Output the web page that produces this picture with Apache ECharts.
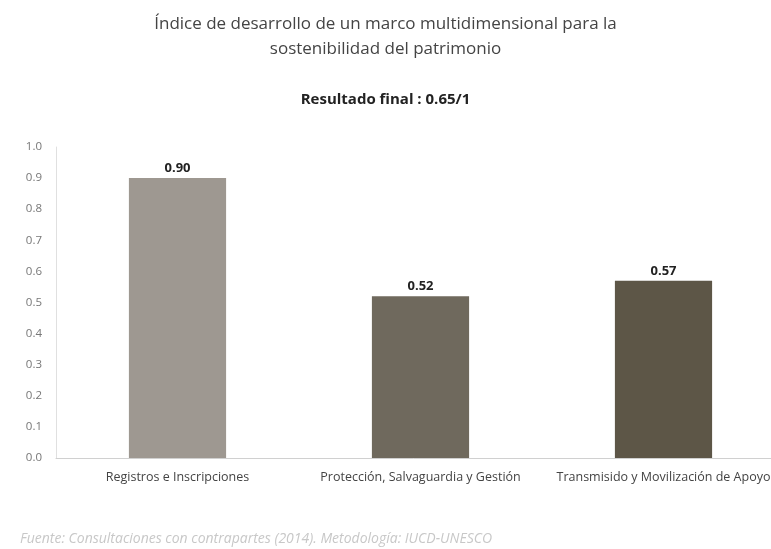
<!DOCTYPE html>
<html>
<head>
<meta charset="utf-8">
<script src="https://cdn.jsdelivr.net/npm/echarts@6/dist/echarts.min.js"></script>
<style>
  html, body { margin: 0; padding: 0; background: #fff; }
  #chart { width: 771px; height: 549px; }
</style>
</head>
<body>
<div id="chart"></div>
<script>
// datos
const categories = ['Registros e Inscripciones', 'Protección, Salvaguardia y Gestión', 'Transmisido y Movilización de Apoyo'];
const values = [0.90, 0.52, 0.57];
const barColors = ['#9e9891', '#6f695d', '#5d5647'];
const yTicks = [0, 0.1, 0.2, 0.3, 0.4, 0.5, 0.6, 0.7, 0.8, 0.9, 1.0];

const chart = echarts.init(document.getElementById('chart'));
chart.setOption({
  backgroundColor: '#fff',
  animation: false,
  title: [{
    text: 'Índice de desarrollo de un marco multidimensional para la\nsostenibilidad del patrimonio',
    left: 'center',
    top: 7,
    textStyle: { fontFamily: 'Open Sans', fontSize: 17, fontWeight: 'normal', color: '#444', lineHeight: 25 }
  }, {
    text: 'Resultado final : 0.65/1',
    left: 'center',
    top: 87,
    textStyle: { fontFamily: 'Open Sans', fontSize: 15, fontWeight: 'bold', color: '#222' }
  }, {
    text: 'Fuente: Consultaciones con contrapartes (2014). Metodología: IUCD-UNESCO',
    left: 15,
    top: 527,
    textStyle: { fontFamily: 'Open Sans', fontSize: 14, fontStyle: 'italic', fontWeight: 'normal', color: '#c8c8c8' }
  }],
  grid: { left: 56, right: -14, top: 147, bottom: 91, outerBoundsMode: 'none' },
  xAxis: {
    type: 'category',
    data: categories,
    axisLine: { lineStyle: { color: '#d0d0d0', width: 1 } },
    axisTick: { show: false },
    axisLabel: { fontFamily: 'Open Sans', fontSize: 12.5, color: '#444', margin: 13, interval: 0 }
  },
  yAxis: {
    type: 'value',
    min: 0,
    max: 1,
    interval: 0.1,
    axisLine: { show: true, lineStyle: { color: '#e0e0e0' } },
    axisTick: { show: false },
    splitLine: { show: false },
    axisLabel: {
      fontFamily: 'Open Sans', fontSize: 11.5, color: '#777', margin: 14,
      formatter: v => yTicks.includes(Math.round(v * 10) / 10) ? v.toFixed(1) : ''
    }
  },
  series: [{
    type: 'bar',
    barWidth: '40%',
    data: values.map((v, i) => ({ value: v, itemStyle: { color: barColors[i] } })),
    label: {
      show: true,
      position: 'top',
      distance: 3,
      formatter: p => p.value.toFixed(2),
      fontFamily: 'Open Sans', fontSize: 13, fontWeight: 'bold', color: '#222'
    }
  }]
});
</script>
</body>
</html>
